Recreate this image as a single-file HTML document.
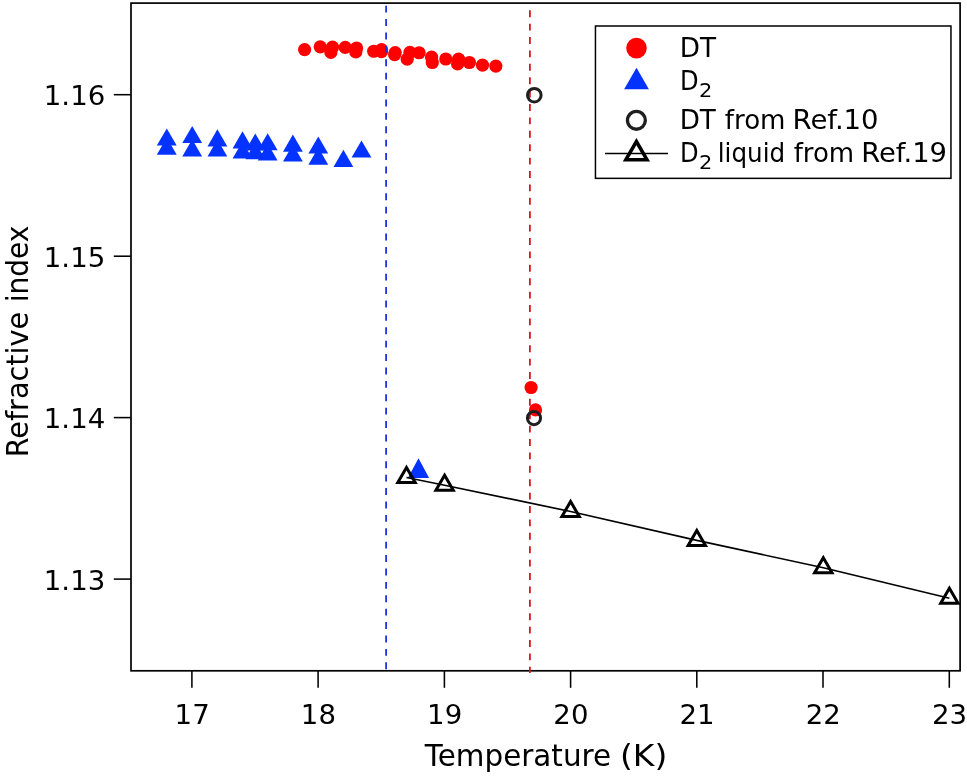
<!DOCTYPE html>
<html lang="en">
<head>
<meta charset="utf-8">
<title>Refractive index vs Temperature</title>
<style>
html,body{margin:0;padding:0;background:#fff;}
body{width:967px;height:776px;overflow:hidden;}
svg{display:block;}
text{font-family:"DejaVu Sans", "Liberation Sans", sans-serif;fill:#000;}
.tk{font-size:26.8px;}
.ax{font-size:30.5px;}
.lg{font-size:27.4px;}
.sub{font-size:19.8px;}
.rc{fill:#ff0000;}
.bt{fill:#0433ff;}
.oc{fill:none;stroke:#1f1f1f;stroke-width:3;}
.ot{fill:none;stroke:#000;stroke-width:3;stroke-linejoin:miter;}
.fr{fill:none;stroke:#000;stroke-width:1.7;}
.tick{fill:none;stroke:#000;stroke-width:1.55;}
</style>
</head>
<body>
<svg width="967" height="776" viewBox="0 0 967 776">
<rect x="0" y="0" width="967" height="776" fill="#ffffff"/>

<g class="tick">
<line x1="113.8" y1="94.7" x2="131.0" y2="94.7"/>
<line x1="113.8" y1="256.2" x2="131.0" y2="256.2"/>
<line x1="113.8" y1="417.6" x2="131.0" y2="417.6"/>
<line x1="113.8" y1="579.1" x2="131.0" y2="579.1"/>
<line x1="191.9" y1="670.8" x2="191.9" y2="687.8"/>
<line x1="318.1" y1="670.8" x2="318.1" y2="687.8"/>
<line x1="444.4" y1="670.8" x2="444.4" y2="687.8"/>
<line x1="570.6" y1="670.8" x2="570.6" y2="687.8"/>
<line x1="696.8" y1="670.8" x2="696.8" y2="687.8"/>
<line x1="823.0" y1="670.8" x2="823.0" y2="687.8"/>
<line x1="949.3" y1="670.8" x2="949.3" y2="687.8"/>
</g>
<rect class="fr" x="131.0" y="3.1" width="829.1" height="667.7"/>
<line x1="529.9" y1="10.25" x2="529.9" y2="673" stroke="#dc1420" stroke-width="1.8" stroke-dasharray="6.9 6.5"/>
<g>
<polygon class="bt" points="166.8,137.6 176.7,154.7 156.8,154.7"/>
<polygon class="bt" points="166.8,128.4 176.7,145.5 156.8,145.5"/>
<polygon class="bt" points="192.2,139.3 202.1,156.4 182.3,156.4"/>
<polygon class="bt" points="192.2,126.0 202.1,143.1 182.3,143.1"/>
<polygon class="bt" points="217.4,139.5 227.3,156.6 207.5,156.6"/>
<polygon class="bt" points="217.4,129.3 227.3,146.4 207.5,146.4"/>
<polygon class="bt" points="242.5,141.5 252.4,158.6 232.6,158.6"/>
<polygon class="bt" points="242.5,131.3 252.4,148.4 232.6,148.4"/>
<polygon class="bt" points="255.3,142.1 265.2,159.2 245.4,159.2"/>
<polygon class="bt" points="255.3,133.5 265.2,150.6 245.4,150.6"/>
<polygon class="bt" points="267.7,143.5 277.6,160.6 257.8,160.6"/>
<polygon class="bt" points="267.7,133.2 277.6,150.3 257.8,150.3"/>
<polygon class="bt" points="292.9,144.5 302.8,161.6 283.0,161.6"/>
<polygon class="bt" points="292.9,134.6 302.8,151.7 283.0,151.7"/>
<polygon class="bt" points="318.3,147.6 328.2,164.7 308.4,164.7"/>
<polygon class="bt" points="318.3,136.5 328.2,153.6 308.4,153.6"/>
<polygon class="bt" points="343.4,149.8 353.3,166.9 333.5,166.9"/>
<polygon class="bt" points="361.5,140.5 371.4,157.6 351.6,157.6"/>
<polygon class="bt" points="418.5,458.3 429.1,478 407.9,478"/>
</g>
<g class="rc">
<circle cx="304.6" cy="49.6" r="6.6"/>
<circle cx="320.2" cy="46.8" r="6.6"/>
<circle cx="332.5" cy="47.2" r="6.6"/>
<circle cx="330.9" cy="52.4" r="6.6"/>
<circle cx="345.2" cy="47.4" r="6.6"/>
<circle cx="356.6" cy="48" r="6.6"/>
<circle cx="355.8" cy="51.9" r="6.6"/>
<circle cx="373.7" cy="51.25" r="6.6"/>
<circle cx="381.6" cy="49.7" r="6.6"/>
<circle cx="381.5" cy="51.7" r="6.6"/>
<circle cx="395.2" cy="52.6" r="6.6"/>
<circle cx="394.6" cy="54.7" r="6.6"/>
<circle cx="409.9" cy="52.4" r="6.6"/>
<circle cx="407.2" cy="59.2" r="6.6"/>
<circle cx="419.1" cy="52.75" r="6.6"/>
<circle cx="431.6" cy="57.2" r="6.6"/>
<circle cx="432.3" cy="62.5" r="6.6"/>
<circle cx="445.8" cy="59.0" r="6.6"/>
<circle cx="458.6" cy="59.2" r="6.6"/>
<circle cx="457.6" cy="63.9" r="6.6"/>
<circle cx="469.4" cy="62.5" r="6.6"/>
<circle cx="482.5" cy="65.1" r="6.6"/>
<circle cx="495.85" cy="66.1" r="6.6"/>
<circle cx="531.1" cy="387.5" r="6.6"/>
<circle cx="535.5" cy="409.9" r="6.6"/>
</g>
<line x1="386.1" y1="5.7" x2="386.1" y2="670.8" stroke="#1a36dc" stroke-width="1.8" stroke-dasharray="6.9 6.5"/>
<polyline fill="none" stroke="#000" stroke-width="1.65" points="406.5,477.5 444.6,485.2 570.6,511.5 696.8,540.4 823.3,567.8 949.4,598.3"/>
<polygon class="ot" points="406.5,467.5 415.2,482.5 397.8,482.5"/>
<polygon class="ot" points="444.6,475.2 453.3,490.2 435.9,490.2"/>
<polygon class="ot" points="570.6,501.5 579.3,516.5 561.9,516.5"/>
<polygon class="ot" points="696.8,530.4 705.5,545.4 688.1,545.4"/>
<polygon class="ot" points="823.3,557.8 832.0,572.8 814.6,572.8"/>
<polygon class="ot" points="949.4,588.3 958.1,603.3 940.7,603.3"/>
<circle class="oc" cx="534.3" cy="95.2" r="6.8"/>
<circle class="oc" cx="534" cy="418.1" r="6.6"/>
<rect x="595.45" y="26" width="355.5" height="152.35" fill="#fff" stroke="#000" stroke-width="1.5"/>
<circle class="rc" cx="636.5" cy="48.1" r="10.3"/>
<polygon class="bt" points="636.5,67.7 648.9,89.2 624.1,89.2"/>
<circle class="oc" style="stroke-width:3.3" cx="636.4" cy="120.3" r="8.95"/>
<line x1="605" y1="153.4" x2="668" y2="153.4" stroke="#000" stroke-width="1.5"/>
<polygon class="ot" style="stroke-width:3.5" points="636.4,141.5 647.0,159.8 625.8,159.8"/>
<text class="lg" y="56.90"><tspan id="l1" x="679.75" textLength="36.27" lengthAdjust="spacingAndGlyphs">DT</tspan></text>
<text class="lg" y="90.30"><tspan id="l2" x="679.90" textLength="18.57" lengthAdjust="spacingAndGlyphs">D</tspan><tspan id="l2s" class="sub" x="699.12" y="97.20" textLength="13.29" lengthAdjust="spacingAndGlyphs">2</tspan></text>
<text class="lg" y="128.70"><tspan id="l3a" x="679.66" textLength="36.16" lengthAdjust="spacingAndGlyphs">DT</tspan> <tspan id="l3b" x="724.82" textLength="60.72" lengthAdjust="spacingAndGlyphs">from</tspan> <tspan id="l3c" x="792.53" textLength="51.30" lengthAdjust="spacingAndGlyphs">Ref.</tspan><tspan id="l3d" x="843.59" textLength="34.98" lengthAdjust="spacingAndGlyphs">10</tspan></text>
<text class="lg" y="162.00"><tspan id="l4" x="679.90" textLength="18.57" lengthAdjust="spacingAndGlyphs">D</tspan><tspan id="l4s" class="sub" x="699.12" y="168.70" textLength="13.29" lengthAdjust="spacingAndGlyphs">2</tspan> <tspan id="l4b" x="717.75" y="162.00" textLength="67.36" lengthAdjust="spacingAndGlyphs">liquid</tspan> <tspan id="l4c" x="793.63" textLength="60.51" lengthAdjust="spacingAndGlyphs">from</tspan> <tspan id="l4d" x="861.26" textLength="50.85" lengthAdjust="spacingAndGlyphs">Ref.</tspan><tspan id="l4e" x="912.20" textLength="34.86" lengthAdjust="spacingAndGlyphs">19</tspan></text>
<text class="tk" y="105.10"><tspan id="y0" x="43.80" textLength="61.47" lengthAdjust="spacingAndGlyphs">1.16</tspan></text>
<text class="tk" y="266.57"><tspan id="y1" x="43.80" textLength="61.47" lengthAdjust="spacingAndGlyphs">1.15</tspan></text>
<text class="tk" y="428.04"><tspan id="y2" x="43.80" textLength="61.47" lengthAdjust="spacingAndGlyphs">1.14</tspan></text>
<text class="tk" y="589.51"><tspan id="y3" x="43.80" textLength="61.47" lengthAdjust="spacingAndGlyphs">1.13</tspan></text>
<text class="tk" y="723.90"><tspan id="x0" x="174.64" textLength="35.12" lengthAdjust="spacingAndGlyphs">17</tspan></text>
<text class="tk" y="723.90"><tspan id="x1" x="300.87" textLength="35.12" lengthAdjust="spacingAndGlyphs">18</tspan></text>
<text class="tk" y="723.90"><tspan id="x2" x="427.10" textLength="35.12" lengthAdjust="spacingAndGlyphs">19</tspan></text>
<text class="tk" y="723.90"><tspan id="x3" x="553.33" textLength="35.12" lengthAdjust="spacingAndGlyphs">20</tspan></text>
<text class="tk" y="723.90"><tspan id="x4" x="679.56" textLength="35.12" lengthAdjust="spacingAndGlyphs">21</tspan></text>
<text class="tk" y="723.90"><tspan id="x5" x="805.79" textLength="35.12" lengthAdjust="spacingAndGlyphs">22</tspan></text>
<text class="tk" y="723.90"><tspan id="x6" x="932.02" textLength="35.12" lengthAdjust="spacingAndGlyphs">23</tspan></text>
<text class="ax" y="765.60"><tspan id="xla" x="424.70" textLength="186.44" lengthAdjust="spacingAndGlyphs">Temperature</tspan> <tspan id="xlb" x="620.00" textLength="47.37" lengthAdjust="spacingAndGlyphs">(K)</tspan></text>
<text class="ax" y="0.00" transform="translate(28,455.5) rotate(-90)"><tspan id="yla" x="-1.82" textLength="145.51" lengthAdjust="spacingAndGlyphs">Refractive</tspan> <tspan id="ylb" x="153.17" textLength="76.73" lengthAdjust="spacingAndGlyphs">index</tspan></text>
</svg>
</body>
</html>
